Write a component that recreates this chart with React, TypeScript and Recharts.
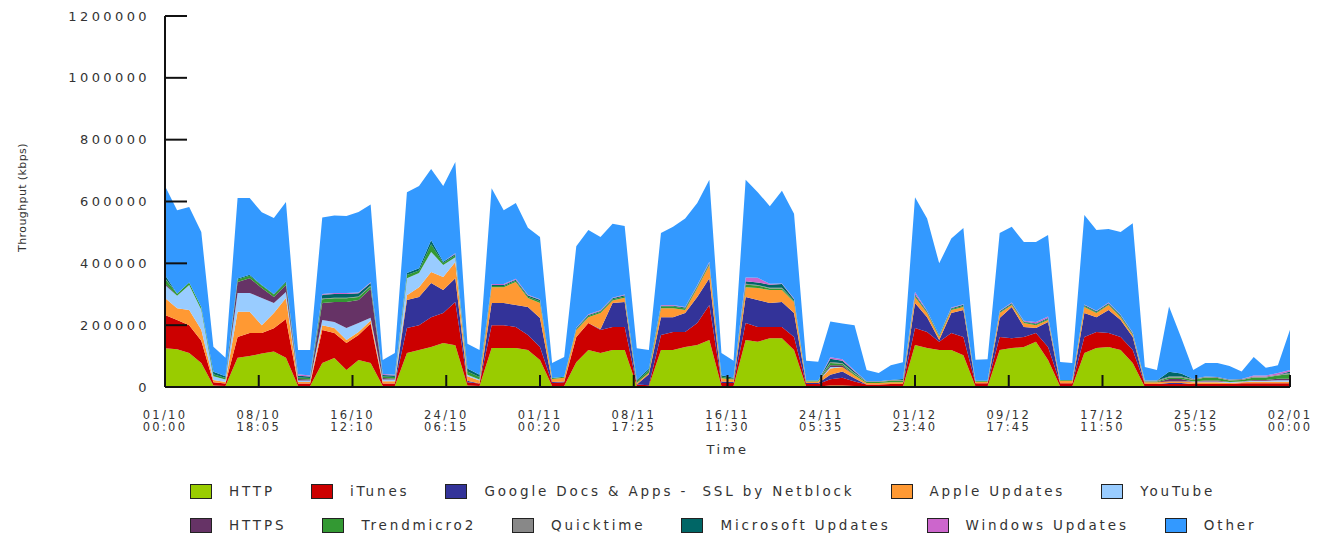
import React from 'react';
import { Area, AreaChart, Label, XAxis, YAxis } from 'recharts';

// one point per day, 01/10 00:00 .. 02/01 00:00 (values in thousands of kbps)
const days = Array.from({ length: 94 }, (_, i) => i);

const http = [125, 122, 110, 78, 5, 3, 95, 100, 108, 115, 95, 3, 3, 78, 94, 55, 87, 78, 3, 3, 110, 120, 129, 142, 135, 5, 3, 126, 126, 126, 120, 87, 3, 3, 80, 120, 110, 120, 120, 3, 3, 120, 120, 129, 136, 152, 3, 3, 152, 146, 158, 158, 120, 2, 2, 5, 5, 3, 0, 0, 0, 0, 136, 126, 120, 120, 103, 2, 2, 120, 126, 129, 146, 87, 2, 2, 110, 126, 129, 120, 78, 0, 0, 0, 0, 0, 0, 0, 0, 0, 0, 0, 0, 0];
const itunes = [108, 95, 90, 72, 10, 8, 67, 75, 67, 75, 125, 8, 8, 106, 81, 87, 81, 127, 8, 8, 81, 80, 97, 97, 140, 10, 8, 74, 74, 68, 48, 42, 10, 12, 82, 87, 74, 74, 74, 5, 3, 48, 58, 49, 71, 113, 10, 10, 55, 48, 36, 36, 42, 8, 8, 20, 25, 15, 8, 8, 10, 10, 55, 52, 26, 55, 59, 10, 10, 42, 32, 33, 29, 42, 10, 10, 52, 52, 46, 42, 42, 10, 10, 10, 10, 10, 10, 10, 10, 12, 12, 12, 12, 12];
const googleDocs = [0, 0, 0, 0, 0, 0, 0, 0, 0, 0, 0, 0, 0, 0, 0, 0, 0, 0, 0, 0, 90, 91, 110, 75, 77, 5, 0, 72, 72, 71, 91, 94, 3, 3, 0, 0, 3, 78, 81, 0, 35, 58, 48, 61, 84, 87, 5, 3, 84, 87, 78, 81, 77, 3, 3, 15, 20, 10, 0, 0, 0, 0, 81, 48, 6, 64, 87, 0, 0, 61, 101, 32, 16, 81, 0, 0, 77, 48, 74, 55, 42, 0, 0, 3, 3, 0, 0, 0, 0, 0, 0, 0, 0, 0];
const appleUpdates = [55, 38, 49, 35, 8, 5, 81, 68, 25, 49, 68, 5, 5, 16, 16, 10, 10, 10, 8, 8, 16, 32, 36, 42, 52, 15, 10, 51, 51, 75, 29, 49, 10, 12, 22, 19, 52, 8, 14, 5, 5, 29, 29, 10, 29, 43, 10, 8, 32, 39, 42, 39, 36, 5, 5, 20, 15, 10, 5, 5, 5, 5, 19, 13, 10, 10, 10, 5, 5, 16, 6, 13, 9, 7, 8, 8, 20, 13, 16, 9, 6, 5, 5, 5, 5, 5, 5, 5, 3, 3, 5, 5, 5, 5];
const youtube = [42, 40, 81, 65, 12, 8, 61, 61, 88, 33, 19, 5, 5, 17, 19, 39, 29, 9, 5, 5, 55, 46, 65, 39, 16, 5, 3, 0, 0, 0, 0, 0, 0, 0, 0, 0, 0, 0, 0, 0, 0, 0, 0, 0, 0, 0, 0, 0, 0, 0, 0, 0, 0, 0, 0, 5, 0, 0, 0, 0, 0, 0, 0, 0, 0, 0, 0, 0, 0, 0, 0, 0, 0, 0, 0, 0, 0, 0, 0, 0, 0, 0, 0, 0, 0, 3, 3, 3, 3, 3, 3, 3, 5, 5];
const https = [5, 0, 0, 0, 0, 0, 36, 48, 32, 19, 23, 5, 3, 55, 65, 84, 74, 94, 5, 3, 0, 0, 0, 0, 0, 0, 0, 0, 0, 0, 0, 0, 0, 0, 0, 0, 0, 0, 0, 0, 0, 0, 0, 0, 0, 0, 0, 0, 0, 0, 0, 0, 0, 0, 0, 5, 5, 0, 0, 0, 0, 0, 0, 0, 0, 0, 0, 0, 0, 0, 0, 0, 0, 0, 0, 0, 0, 0, 0, 0, 0, 0, 0, 8, 8, 0, 3, 3, 0, 0, 3, 3, 5, 5];
const trendmicro = [15, 7, 8, 8, 6, 5, 8, 8, 8, 8, 8, 5, 5, 12, 12, 12, 10, 8, 5, 5, 10, 8, 25, 6, 6, 10, 8, 4, 4, 4, 4, 5, 3, 3, 3, 4, 4, 4, 4, 5, 8, 5, 5, 5, 4, 4, 5, 3, 8, 8, 5, 5, 4, 3, 3, 8, 5, 5, 3, 3, 5, 5, 4, 3, 3, 3, 3, 3, 3, 3, 3, 3, 3, 3, 3, 3, 3, 3, 3, 3, 3, 3, 3, 5, 5, 5, 10, 8, 5, 5, 8, 8, 10, 15];
const quicktime = [2, 0, 0, 0, 0, 0, 0, 0, 0, 0, 0, 0, 0, 2, 2, 2, 2, 2, 0, 0, 0, 0, 0, 0, 0, 0, 0, 0, 0, 0, 0, 0, 0, 0, 0, 0, 0, 0, 0, 0, 0, 0, 0, 0, 0, 0, 0, 0, 3, 2, 2, 2, 0, 0, 0, 3, 2, 2, 3, 3, 3, 3, 0, 0, 0, 0, 0, 0, 0, 0, 0, 0, 0, 0, 0, 0, 0, 0, 0, 0, 0, 3, 3, 3, 3, 3, 3, 3, 3, 3, 3, 3, 3, 3];
const msUpdates = [10, 0, 0, 0, 8, 6, 3, 3, 2, 2, 3, 5, 5, 12, 12, 12, 10, 8, 5, 5, 7, 7, 13, 4, 4, 10, 8, 3, 3, 3, 4, 5, 0, 0, 3, 3, 3, 3, 4, 5, 5, 3, 3, 3, 3, 3, 5, 3, 8, 8, 10, 12, 5, 0, 0, 10, 8, 5, 0, 0, 0, 3, 4, 3, 2, 3, 4, 0, 0, 3, 3, 2, 2, 3, 0, 0, 3, 3, 3, 3, 3, 0, 0, 15, 10, 0, 0, 0, 0, 0, 0, 0, 0, 5];
const winUpdates = [0, 0, 0, 0, 0, 0, 0, 0, 0, 0, 0, 5, 3, 3, 3, 3, 3, 3, 3, 3, 0, 0, 0, 0, 3, 0, 0, 3, 3, 3, 2, 2, 0, 0, 2, 2, 2, 2, 2, 0, 0, 2, 2, 2, 2, 3, 0, 0, 12, 15, 3, 2, 2, 0, 0, 5, 5, 3, 0, 0, 0, 0, 8, 2, 0, 2, 2, 0, 0, 2, 2, 2, 5, 5, 0, 0, 2, 2, 2, 2, 2, 0, 0, 0, 0, 0, 0, 0, 0, 0, 3, 3, 5, 5];
const other = [288, 270, 244, 243, 81, 60, 260, 248, 235, 246, 257, 79, 83, 247, 251, 249, 260, 251, 45, 70, 261, 266, 230, 245, 295, 80, 80, 310, 239, 245, 217, 201, 49, 64, 263, 273, 237, 239, 222, 102, 61, 233, 253, 286, 266, 265, 72, 55, 316, 277, 251, 300, 274, 64, 61, 116, 115, 147, 36, 26, 47, 54, 307, 298, 233, 223, 246, 68, 70, 251, 245, 255, 259, 264, 58, 55, 289, 261, 238, 267, 354, 44, 34, 211, 116, 29, 44, 46, 44, 24, 60, 25, 25, 130];

const series = [
  { key: 'http', name: 'HTTP', color: '#99cc00', values: http },
  { key: 'itunes', name: 'iTunes', color: '#cc0000', values: itunes },
  { key: 'gdocs', name: 'Google Docs & Apps -  SSL by Netblock', color: '#333399', values: googleDocs },
  { key: 'apple', name: 'Apple Updates', color: '#ff9933', values: appleUpdates },
  { key: 'youtube', name: 'YouTube', color: '#99ccff', values: youtube },
  { key: 'https', name: 'HTTPS', color: '#663366', values: https },
  { key: 'trend', name: 'Trendmicro2', color: '#339933', values: trendmicro },
  { key: 'quick', name: 'Quicktime', color: '#888888', values: quicktime },
  { key: 'ms', name: 'Microsoft Updates', color: '#006666', values: msUpdates },
  { key: 'win', name: 'Windows Updates', color: '#cc66cc', values: winUpdates },
  { key: 'other', name: 'Other', color: '#3399ff', values: other },
];

const tickDays = [0, 7.75, 15.5, 23.25, 31, 38.75, 46.5, 54.25, 62, 69.75, 77.5, 85.25, 93];
const tickDates = ['01/10', '08/10', '16/10', '24/10', '01/11', '08/11', '16/11', '24/11', '01/12', '09/12', '17/12', '25/12', '02/01'];
const tickTimes = ['00:00', '18:05', '12:10', '06:15', '00:20', '17:25', '11:30', '05:35', '23:40', '17:45', '11:50', '05:55', '00:00'];
const yTicks = [0, 200000, 400000, 600000, 800000, 1000000, 1200000];

const data = days.map((d, i) => {
  const row: Record<string, number> = { day: d };
  series.forEach((s) => {
    row[s.key] = s.values[i] * 1000;
  });
  return row;
});

const font = '"DejaVu Sans", sans-serif';
const textColor = '#333';

function XTick(props: any) {
  const { x, y, payload } = props;
  const i = tickDays.indexOf(payload.value);
  return (
    <g>
      <line x1={x} x2={x} y1={y} y2={y - 12} stroke="#111" strokeWidth={2} />
      <text x={x} y={y + 31.5} textAnchor="middle" fontSize={11.5} letterSpacing={2.3} fill={textColor} fontFamily={font}>
        {tickDates[i]}
      </text>
      <text x={x} y={y + 43.5} textAnchor="middle" fontSize={11.5} letterSpacing={2.3} fill={textColor} fontFamily={font}>
        {tickTimes[i]}
      </text>
    </g>
  );
}

function YTick(props: any) {
  const { x, y, payload } = props;
  return (
    <g>
      <line x1={x} x2={x + 22} y1={y} y2={y} stroke="#111" strokeWidth={2} />
      <text x={x - 15} y={y + 4.5} textAnchor="end" fontSize={13} letterSpacing={3.4} fill={textColor} fontFamily={font}>
        {payload.value}
      </text>
    </g>
  );
}

export default function App() {
  return (
    <div style={{ position: 'relative', width: 1313, height: 526 }}>
      <AreaChart width={1313} height={460} data={data} margin={{ top: 8, right: 31, bottom: 0, left: 7 }}>
        <XAxis
          dataKey="day"
          type="number"
          domain={[0, 93]}
          ticks={tickDays}
          interval={0}
          tick={<XTick />}
          tickLine={false}
          tickSize={0}
          tickMargin={0}
          height={81}
          axisLine={{ stroke: '#111', strokeWidth: 2 }}
        >
          <Label
            content={(p: any) => (
              <text
                x={p.viewBox.x + p.viewBox.width / 2}
                y={p.viewBox.y + 67}
                textAnchor="middle"
                fontSize={13}
                letterSpacing={2.5}
                fill={textColor}
                fontFamily={font}
              >
                Time
              </text>
            )}
          />
        </XAxis>
        <YAxis
          domain={[0, 1200000]}
          ticks={yTicks}
          interval={0}
          tick={<YTick />}
          tickLine={false}
          tickSize={0}
          tickMargin={0}
          width={150}
          axisLine={{ stroke: '#111', strokeWidth: 2 }}
        >
          <Label
            content={(p: any) => {
              const cx = p.viewBox.x + 7;
              const cy = p.viewBox.y + p.viewBox.height / 2 - 4;
              return (
                <text
                  x={cx}
                  y={cy}
                  transform={`rotate(-90, ${cx}, ${cy})`}
                  textAnchor="middle"
                  dominantBaseline="central"
                  fontSize={11}
                  letterSpacing={0.4}
                  fill={textColor}
                  fontFamily={font}
                >
                  Throughput (kbps)
                </text>
              );
            }}
          />
        </YAxis>
        {series.map((s) => (
          <Area
            key={s.key}
            dataKey={s.key}
            name={s.name}
            stackId="a"
            type="linear"
            fill={s.color}
            fillOpacity={1}
            stroke="none"
            isAnimationActive={false}
          />
        ))}
      </AreaChart>
      <div
        style={{
          position: 'absolute',
          left: 182,
          top: 466,
          fontFamily: font,
          fontSize: 13.5,
          letterSpacing: 2.85,
          color: textColor,
        }}
      >
        {[series.slice(0, 5), series.slice(5)].map((row, r) => (
          <div key={r} style={{ display: 'flex', alignItems: 'center', height: 34 }}>
            {row.map((s) => (
              <div key={s.key} style={{ display: 'flex', alignItems: 'center', marginRight: 36 }}>
                <span
                  style={{
                    display: 'inline-block',
                    width: 20,
                    height: 13,
                    background: s.color,
                    border: '1.5px solid #222',
                    marginRight: 17,
                  }}
                />
                <span style={{ whiteSpace: 'pre' }}>{s.name}</span>
              </div>
            ))}
          </div>
        ))}
      </div>
    </div>
  );
}
